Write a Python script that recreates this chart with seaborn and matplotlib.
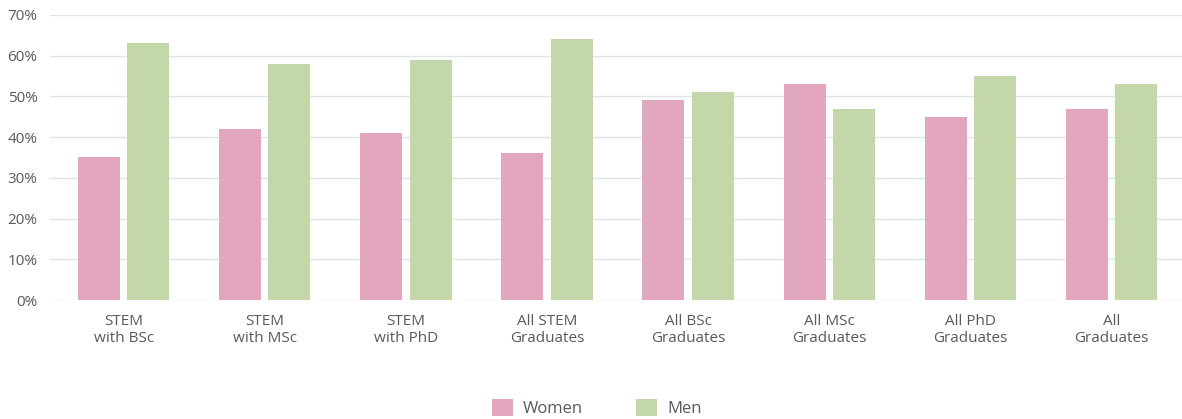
import pandas as pd
import matplotlib.pyplot as plt
import seaborn as sns
from matplotlib.ticker import PercentFormatter
from matplotlib.patches import Patch

# Data
categories = ["STEM\nwith BSc", "STEM\nwith MSc", "STEM\nwith PhD", "All STEM\nGraduates",
              "All BSc\nGraduates", "All MSc\nGraduates", "All PhD\nGraduates", "All\nGraduates"]
women = [35, 42, 41, 36, 49, 53, 45, 47]
men = [63, 58, 59, 64, 51, 47, 55, 53]
series = ["Women", "Men"]
colors = ["#E2A6BF", "#C4D7A8"]

df = pd.DataFrame({
    "category": categories * 2,
    "group": ["Women"] * len(women) + ["Men"] * len(men),
    "value": women + men,
})

sns.set_style("white")
plt.rcParams['font.family'] = ['Open Sans', 'DejaVu Sans']
text_color = "#595959"

fig = plt.figure(figsize=(11.82, 4.19), dpi=100)
ax = fig.add_axes([50 / 1182, 119 / 419, 1 - 50 / 1182, 285 / 419])

sns.barplot(data=df, x="category", y="value", hue="group", hue_order=series,
            palette=colors, width=0.70, gap=0.15, saturation=1, legend=False,
            linewidth=0, ax=ax)

ax.set_ylim(0, 70)
ax.set_xlim(-0.522, 7.5)
ax.set_yticks(range(0, 71, 10))
ax.yaxis.set_major_formatter(PercentFormatter(decimals=0))
ax.grid(axis="y", color="#DDE5E5", linewidth=1)
ax.set_axisbelow(True)
for s in ax.spines.values():
    s.set_visible(False)
ax.set_xlabel("")
ax.set_ylabel("")
ax.tick_params(axis="both", length=0, labelsize=11, labelcolor=text_color)
ax.tick_params(axis="x", pad=10)
ax.tick_params(axis="y", pad=9)
for lbl in ax.get_xticklabels():
    lbl.set_linespacing(1.2)

handles = [Patch(facecolor=c, edgecolor="none") for c in colors]
fig.legend(handles, series, loc="center", bbox_to_anchor=(0.505, 11 / 419), ncol=2,
           frameon=False, fontsize=12, labelcolor=text_color, handlelength=1.25,
           handleheight=1.25, columnspacing=3.2, handletextpad=0.6)

fig.savefig("out.png", dpi=100)
